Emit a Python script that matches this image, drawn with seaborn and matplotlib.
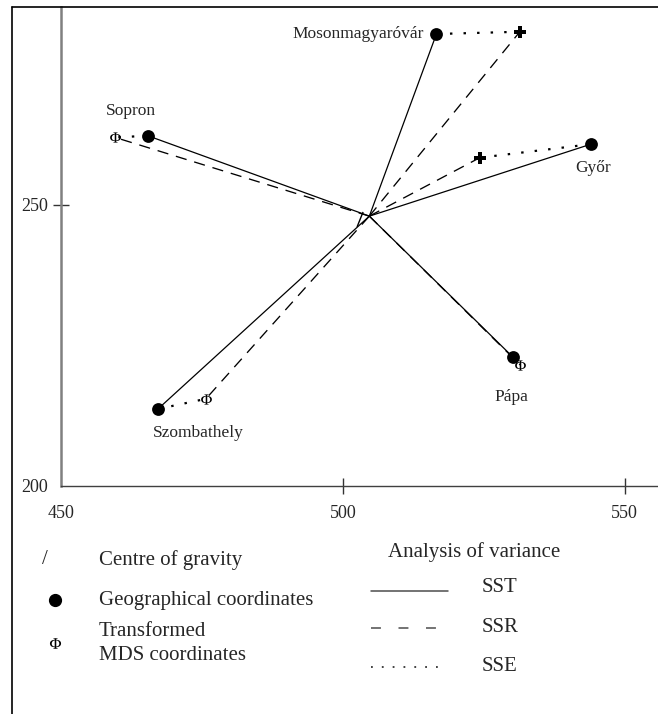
import numpy as np
import pandas as pd
import matplotlib
matplotlib.use("Agg")
import matplotlib.pyplot as plt
import seaborn as sns
from matplotlib.lines import Line2D

# values
cities = ["Mosonmagyaróvár", "Győr", "Sopron", "Szombathely", "Pápa"]
geo_x = [516.6, 544.0, 465.4, 467.2, 530.1]
geo_y = [280.4, 260.8, 262.3, 213.7, 223.0]
mds_x = [531.4, 524.3, 459.6, 475.7, 531.5]
mds_y = [280.8, 258.4, 262.0, 215.5, 221.5]
centre_x = 504.7
centre_y = 248.0
x_ticks = [450, 500, 550]
y_ticks = [200, 250]

sns.set_style("ticks")
plt.rcParams["font.family"] = ["Liberation Serif", "DejaVu Serif"]
plt.rcParams["mathtext.fontset"] = "stix"

# segments: SST centre->geo, SSR centre->mds, SSE geo->mds
rows = []
for i, c in enumerate(cities):
    rows.append(dict(kind="SST", seg=c, x=centre_x, y=centre_y))
    rows.append(dict(kind="SST", seg=c, x=geo_x[i], y=geo_y[i]))
    rows.append(dict(kind="SSR", seg=c, x=centre_x, y=centre_y))
    rows.append(dict(kind="SSR", seg=c, x=mds_x[i], y=mds_y[i]))
    rows.append(dict(kind="SSE", seg=c, x=geo_x[i], y=geo_y[i]))
    rows.append(dict(kind="SSE", seg=c, x=mds_x[i], y=mds_y[i]))
segs = pd.DataFrame(rows)

W, H = 658, 714
fig = plt.figure(figsize=(W / 100, H / 100), dpi=100)
ax = fig.add_axes([61 / W, 1 - 486 / H, 597 / W, 479 / H])

styles = {"SST": ("-", 0.9), "SSR": ((0, (8.5, 6)), 0.95), "SSE": ((0, (1.1, 5)), 1.6)}
for kind, (ls, lw) in styles.items():
    sns.lineplot(data=segs[segs.kind == kind], x="x", y="y", units="seg",
                 estimator=None, sort=False, color="black", lw=lw,
                 linestyle=ls, legend=False, ax=ax)

# geographical coordinates
sns.scatterplot(x=geo_x, y=geo_y, marker="o", s=85, color="black",
                linewidth=0, ax=ax, zorder=5)

# transformed MDS coordinates
cross = [c in ("Mosonmagyaróvár", "Győr") for c in cities]
mx = np.array(mds_x)
my = np.array(mds_y)
cr = np.array(cross)
sns.scatterplot(x=mx[cr], y=my[cr], marker="P", s=70, color="black",
                linewidth=0, ax=ax, zorder=5)
sns.scatterplot(x=mx[~cr], y=my[~cr], marker="$\\Phi$", s=60, color="black",
                linewidth=0, ax=ax, zorder=5)

# centre of gravity, drawn as a slash
slash = [(-1.0, -0.88), (-0.51, 0.34)]
sns.scatterplot(x=[centre_x], y=[centre_y], marker=slash, s=313,
                facecolor="none", edgecolor="black", linewidth=1.0, ax=ax, zorder=4)

label_offsets = {
    "Mosonmagyaróvár": ((-9, 0), "right"),
    "Győr": ((1.5, -17), "center"),
    "Sopron": ((-12, 17.5), "center"),
    "Szombathely": ((29, -17.5), "center"),
    "Pápa": ((-0.7, -29), "center"),
}
for i, c in enumerate(cities):
    off, ha = label_offsets[c]
    ax.annotate(c, (geo_x[i], geo_y[i]), xytext=off, textcoords="offset points",
                ha=ha, va="center", fontsize=12.5)

ax.set_xlim(450, 450 + 597 / 5.637)
ax.set_ylim(200, 200 + 479 / 5.622)
ax.set_xticks(x_ticks)
ax.set_yticks(y_ticks)
ax.set_xlabel("")
ax.set_ylabel("")
ax.tick_params(axis="both", direction="inout", length=12, width=1,
               color="0.2", labelsize=13)
ax.tick_params(axis="x", pad=7.5)
ax.tick_params(axis="y", pad=3.5)
ax.xaxis.get_major_ticks()[0].tick1line.set_visible(False)
ax.yaxis.get_major_ticks()[0].tick1line.set_visible(False)
sns.despine(ax=ax)
ax.spines["left"].set_color("0.5")
ax.spines["left"].set_linewidth(1.8)
ax.spines["bottom"].set_color("0.25")
ax.spines["bottom"].set_linewidth(1.0)

# outer frame
fig.add_artist(Line2D([12 / W, 12 / W], [0, 1 - 7 / H], color="black", lw=1.2))
fig.add_artist(Line2D([12 / W, 1], [1 - 7 / H, 1 - 7 / H], color="black", lw=1.2))


def fx(px):
    return px / W


def fy(py):
    return 1 - py / H


# legend, left block
fig.text(fx(45), fy(560), "/", fontsize=15, ha="center", va="center")
fig.text(fx(99), fy(560), "Centre of gravity", fontsize=15, va="center")
fig.add_artist(Line2D([fx(55)], [fy(600)], marker="o", ms=8.5, color="black", lw=0))
fig.text(fx(99), fy(600), "Geographical coordinates", fontsize=15, va="center")
fig.add_artist(Line2D([fx(55)], [fy(643)], marker="$\\Phi$", ms=8, color="black",
                      lw=0, markeredgewidth=0))
fig.text(fx(99), fy(631.7), "Transformed", fontsize=15, va="center")
fig.text(fx(99), fy(655), "MDS coordinates", fontsize=15, va="center")

# legend, right block
fig.text(fx(388), fy(551.7), "Analysis of variance", fontsize=15, va="center")
fig.add_artist(Line2D([fx(371), fx(448)], [fy(590.7)] * 2, color="0.3", lw=1.1))
fig.text(fx(482), fy(587), "SST", fontsize=15, va="center")
fig.add_artist(Line2D([fx(371), fx(439)], [fy(628)] * 2, color="0.3", lw=1.1,
                      linestyle=(0, (6.5, 11.5))))
fig.text(fx(482), fy(628), "SSR", fontsize=15, va="center")
fig.add_artist(Line2D([fx(371), fx(442)], [fy(666.7)] * 2, color="0.2", lw=1.3,
                      linestyle=(0, (1, 5))))
fig.text(fx(482), fy(666.7), "SSE", fontsize=15, va="center")

fig.savefig("out.png", dpi=100)
